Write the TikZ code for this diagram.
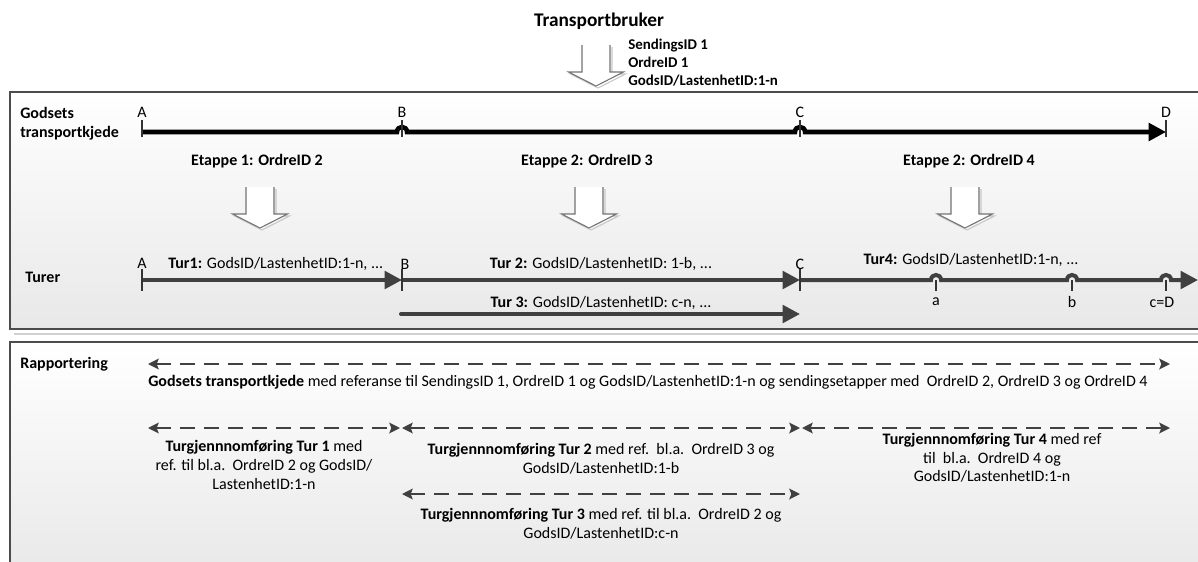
\documentclass[tikz,border=0pt]{standalone}
\usepackage{fontspec}
\setmainfont{Carlito}
\usetikzlibrary{arrows.meta,calc}
\begin{document}
\begin{tikzpicture}[x=0.75pt,y=-0.75pt,
  font=\fontsize{12}{14}\selectfont,
  panel/.style={draw=black!70,line width=0.8pt,top color=white,bottom color=black!9},
  shade/.style={fill=black!18},
  chain/.style={line width=3.4pt,black},
  tur/.style={line width=3pt,draw=black!75},
  bigtip/.style={-{Triangle[length=13pt,width=13pt]}},
  tick/.style={line width=0.9pt,draw=black!80},
  rep/.style={line width=1.6pt,draw=black!75,dash pattern=on 11pt off 7pt,
    {Stealth[length=8pt,width=8pt,inset=1.5pt]}-{Stealth[length=8pt,width=8pt,inset=1.5pt]}},
  lbl/.style={inner sep=0pt},
  bold/.style={lbl,font=\fontsize{12}{14}\selectfont\bfseries},
  head/.style={bold,anchor=west},
  txt/.style={lbl,align=center},
  hollow/.pic={
    \draw[black!22,line width=0.8pt] (-12,2) -- (-12,29) -- (-25.5,29) -- (2,43) -- (29.5,29) -- (16,29) -- (16,2);
    \draw[black!55,line width=0.8pt,fill=white] (-14,0) -- (-14,27) -- (-27.5,27) -- (0,41) -- (27.5,27) -- (14,27) -- (14,0);
  }]
\useasboundingbox (0,0) rectangle (1198,561);
\clip (0,0) rectangle (1198,561);

% ---------- panels ----------
\fill[shade] (14,333) rectangle (1210,334.5);
\draw[panel] (10,92) rectangle (1212,329);
\draw[panel] (10,342) rectangle (1212,580);

% ---------- top: Transportbruker ----------
\node[lbl,font=\fontsize{14.5}{17}\selectfont\bfseries] (tb) at (599,21) {Transportbruker};
\pic at (596,45) {hollow};
\node[lbl,anchor=west,font=\fontsize{11.2}{13.5}\selectfont\bfseries,align=left] (ids) at (628,63)
  {SendingsID 1\\OrdreID 1\\GodsID/LastenhetID:1-n};

% ---------- Godsets transportkjede ----------
\node[head,align=left] (gtk) at (20,124) {Godsets\\transportkjede};
\coordinate (gA) at (142,132);
\coordinate (gB) at (402,132);
\coordinate (gC) at (800,132);
\coordinate (gD) at (1166,132);
\draw[chain,bigtip] (gA) -- ($(gB)+(-5,0)$) .. controls +(0,-6.7) and +(0,-6.7) .. ($(gB)+(5,0)$)
   -- ($(gC)+(-5,0)$) .. controls +(0,-6.7) and +(0,-6.7) .. ($(gC)+(5,0)$) -- (gD);
\foreach \p/\t in {gA/A,gB/B,gC/C,gD/D}{
  \draw[tick] ($(\p)+(0,-12)$) -- ($(\p)+(0,5)$);
  \node[lbl] (l\p) at ($(\p)+(0,-20)$) {\t};
}

% ---------- Etapper ----------
\node[bold] (et1) at (257,161) {Etappe 1: OrdreID 2};
\node[bold] (et2) at (587,161) {Etappe 2: OrdreID 3};
\node[bold] (et3) at (969,161) {Etappe 2: OrdreID 4};
\pic at (260,187) {hollow};
\pic at (589,187) {hollow};
\pic at (965,187) {hollow};

% ---------- Turer ----------
\node[head] (turer) at (25,277) {Turer};
\coordinate (tA) at (142,280);
\coordinate (tB) at (402,280);
\coordinate (tC) at (800,280);
\coordinate (ta) at (936,280);
\coordinate (tb2) at (1072,280);
\coordinate (tc) at (1166,280);
\coordinate (tEnd) at (1198,280);
\coordinate (t3s) at (401,314);
\coordinate (t3e) at (800,314);

\draw[tur,bigtip] (tA) -- (tB);
\draw[tur,bigtip] (tB) -- (tC);
\draw[tur,bigtip] (tC) -- ($(ta)+(-5,0)$) .. controls +(0,-6.7) and +(0,-6.7) .. ($(ta)+(5,0)$)
   -- ($(tb2)+(-5,0)$) .. controls +(0,-6.7) and +(0,-6.7) .. ($(tb2)+(5,0)$)
   -- ($(tc)+(-5,0)$) .. controls +(0,-6.7) and +(0,-6.7) .. ($(tc)+(5,0)$) -- (tEnd);
\draw[tur,bigtip,line cap=round] (t3s) -- (t3e);

\foreach \p in {tA,tB,tC}{\draw[tick] ($(\p)+(0,-11)$) -- ($(\p)+(0,11)$);}
\foreach \p in {ta,tb2,tc}{\draw[tick] (\p) -- ($(\p)+(0,11)$);}

\node[lbl] (ltA) at (142,263) {A};
\node[lbl] (ltB) at (405,264) {B};
\node[lbl] (ltC) at (800,264) {C};
\node[lbl] (lta) at (936,302) {a};
\node[lbl] (ltb) at (1072,302) {b};
\node[lbl] (ltc) at (1162,302) {c=D};

\node[lbl,anchor=west] (tur1) at (168,264) {\textbf{Tur1:} GodsID/LastenhetID:1-n, ...};
\node[lbl] (tur2) at (601,264) {\textbf{Tur 2:} GodsID/LastenhetID: 1-b, ...};
\node[lbl] (tur3) at (601,303) {\textbf{Tur 3:} GodsID/LastenhetID: c-n, ...};
\node[lbl] (tur4) at (971,260) {\textbf{Tur4:} GodsID/LastenhetID:1-n, ...};

% ---------- Rapportering ----------
\node[head] (rap) at (20,364) {Rapportering};
\coordinate (rA) at (148,364);
\coordinate (rD) at (1170,364);
\draw[rep] (rA) -- (rD);
\node[lbl,anchor=west] (rgtk) at (148,382)
  {\textbf{Godsets transportkjede} med referanse til SendingsID 1, OrdreID 1 og GodsID/LastenhetID:1-n og sendingsetapper med\ \ OrdreID 2, OrdreID 3 og OrdreID 4};

\coordinate (r1s) at (148,428);
\coordinate (r1e) at (400,428);
\coordinate (r2s) at (402,428);
\coordinate (r2e) at (800,428);
\coordinate (r4s) at (802,428);
\coordinate (r4e) at (1170,428);
\coordinate (r3s) at (402,494);
\coordinate (r3e) at (800,494);
\draw[rep] (r1s) -- (r1e);
\draw[rep] (r2s) -- (r2e);
\draw[rep] (r4s) -- (r4e);
\draw[rep] (r3s) -- (r3e);

\node[txt] (rt1) at (264,465) {\textbf{Turgjennnomføring Tur 1} med\\ref. til bl.a.\ \ OrdreID 2 og GodsID/\\LastenhetID:1-n};
\node[txt] (rt2) at (601,459) {\textbf{Turgjennnomføring Tur 2} med ref.\ \ bl.a.\ \ OrdreID 3 og\\GodsID/LastenhetID:1-b};
\node[txt] (rt4) at (992,458) {\textbf{Turgjennnomføring Tur 4} med ref\\til\ \ bl.a.\ \ OrdreID 4 og\\GodsID/LastenhetID:1-n};
\node[txt] (rt3) at (601,524) {\textbf{Turgjennnomføring Tur 3} med ref. til bl.a.\ \ OrdreID 2 og\\GodsID/LastenhetID:c-n};
\end{tikzpicture}
\end{document}
